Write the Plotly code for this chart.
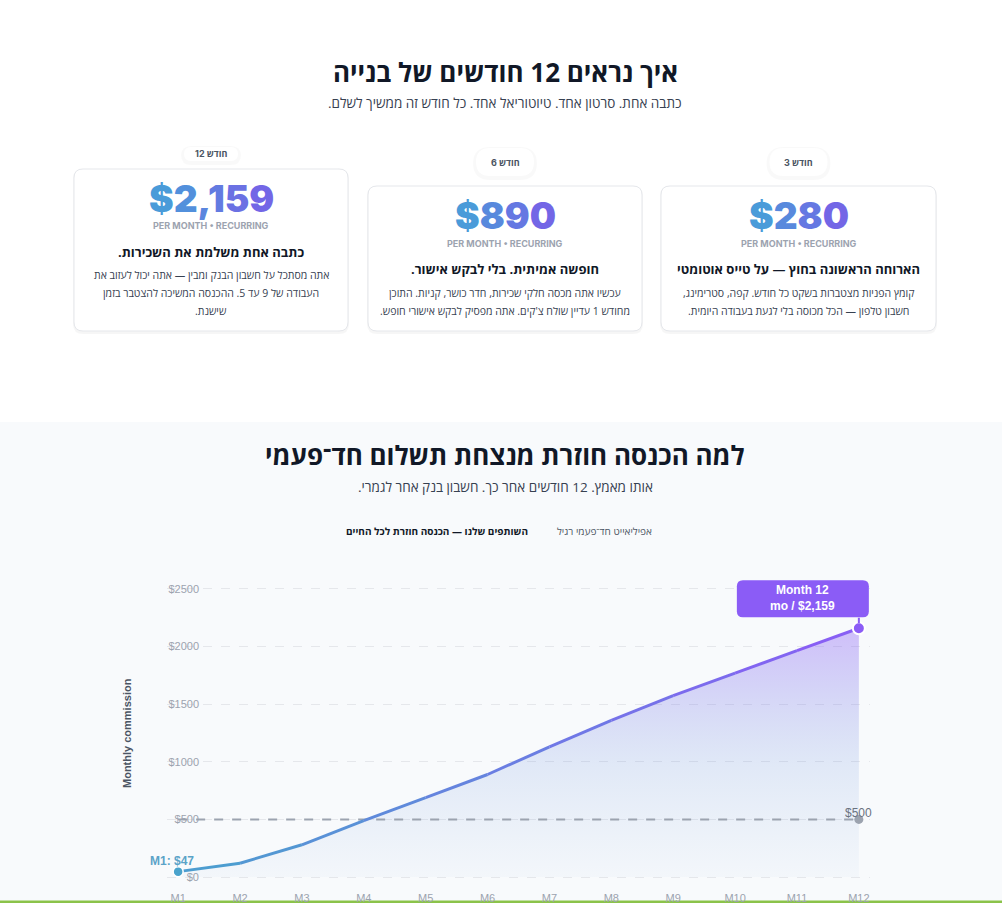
import plotly.graph_objects as go

W, H = 1002, 903

# chart data
months = ["M1", "M2", "M3", "M4", "M5", "M6", "M7", "M8", "M9", "M10", "M11", "M12"]
recurring = [47, 120, 280, 490, 690, 890, 1130, 1360, 1575, 1770, 1965, 2159]
one_time = [500, 500, 500, 500, 500, 500, 500, 500, 500, 500, 500, 500]
y_ticks = [0, 500, 1000, 1500, 2000, 2500]

# milestone cards (left to right on screen)
card_months = ["חודש 12", "חודש 6", "חודש 3"]
card_prices = ["$2,159", "$890", "$280"]
card_titles = ["כתבה אחת משלמת את השכירות.",
               "חופשה אמיתית. בלי לבקש אישור.",
               "הארוחה הראשונה בחוץ — על טייס אוטומטי"]
card_bodies = [["אתה מסתכל על חשבון הבנק ומבין — אתה יכול לעזוב את",
                "העבודה של 9 עד 5. ההכנסה המשיכה להצטבר בזמן",
                "שישנת."],
               ["עכשיו אתה מכסה חלקי שכירות, חדר כושר, קניות. התוכן",
                "מחודש 1 עדיין שולח צ'קים. אתה מפסיק לבקש אישורי חופש."],
               ["קומץ הפניות מצטברות בשקט כל חודש. קפה, סטרימינג,",
                "חשבון טלפון — הכל מכוסה בלי לגעת בעבודה היומית."]]

RLM = "\u200f"
HEB = "Open Sans, Liberation Sans, DejaVu Sans, sans-serif"
ARIAL = "Liberation Sans, Arial, sans-serif"
DARK = "#111827"


def X(px):
    return px / W


def Y(py):
    return 1 - py / H


def rpath(x0, y0, x1, y1, r, fx, fy):
    pts = [("M", x0 + r, y0), ("L", x1 - r, y0), ("Q", x1, y0, x1, y0 + r),
           ("L", x1, y1 - r), ("Q", x1, y1, x1 - r, y1), ("L", x0 + r, y1),
           ("Q", x0, y1, x0, y1 - r), ("L", x0, y0 + r), ("Q", x0, y0, x0 + r, y0)]
    s = ""
    for p in pts:
        nums = p[1:]
        coords = []
        for i in range(0, len(nums), 2):
            coords.append("%.5f,%.5f" % (fx(nums[i]), fy(nums[i + 1])))
        s += p[0] + " " + " ".join(coords) + " "
    return s + "Z"


def rrect(x0, y0, x1, y1, r):
    return rpath(x0, y0, x1, y1, r, X, Y)


def mix(c1, c2, t):
    return "rgb(%d,%d,%d)" % tuple(round(a + (b - a) * t) for a, b in zip(c1, c2))


def note(txt, cx, cy, size, color, weight="normal", family=HEB, **kw):
    return dict(text=txt, x=X(cx), y=Y(cy), xref="paper", yref="paper",
                xanchor="center", yanchor="middle", showarrow=False,
                font=dict(size=size, color=color, family=family, weight=weight), **kw)


BLUE = (74, 160, 206)
PURPLE = (139, 92, 246)

fig = go.Figure()

# area under recurring line
fig.add_trace(go.Scatter(
    x=months, y=recurring, mode="none", fill="tozeroy",
    fillgradient=dict(type="vertical",
                      colorscale=[[0, "rgba(120,160,215,0.04)"],
                                  [0.45, "rgba(100,140,220,0.16)"],
                                  [1, "rgba(139,92,246,0.38)"]]),
    hoverinfo="skip", showlegend=False))

# one-time reference line
fig.add_trace(go.Scatter(
    x=months, y=one_time, mode="lines",
    line=dict(color="#9ca3af", width=2, dash="dash"),
    hoverinfo="skip", showlegend=False))
fig.add_trace(go.Scatter(
    x=months[-1:], y=one_time[-1:], mode="markers",
    marker=dict(color="#9ca3af", size=9),
    hoverinfo="skip", showlegend=False, cliponaxis=False))

# recurring line, coloured segment by segment
n = len(months)
for i in range(n - 1):
    fig.add_trace(go.Scatter(
        x=months[i:i + 2], y=recurring[i:i + 2], mode="lines",
        line=dict(color=mix(BLUE, PURPLE, (i + 0.5) / (n - 1)), width=3),
        hoverinfo="skip", showlegend=False))

fig.add_trace(go.Scatter(
    x=months[:1], y=recurring[:1], mode="markers",
    marker=dict(color="#4aa3cc", size=10, line=dict(color="white", width=1.5)),
    hoverinfo="skip", showlegend=False, cliponaxis=False))
fig.add_trace(go.Scatter(
    x=months[-1:], y=recurring[-1:], mode="markers",
    marker=dict(color="#8b5cf6", size=12, line=dict(color="white", width=2)),
    hoverinfo="skip", showlegend=False, cliponaxis=False))

shapes = []
annotations = []

# light section behind the chart
shapes.append(dict(type="rect", xref="paper", yref="paper", x0=0, x1=1,
                   y0=Y(903), y1=Y(422), fillcolor="#f8fafc", line_width=0, layer="below"))
shapes.append(dict(type="rect", xref="paper", yref="paper", x0=0, x1=1,
                   y0=0, y1=Y(900.5), fillcolor="#8bc34a", line_width=0, layer="below"))

# header
annotations.append(note("איך נראים 12 חודשים של בנייה", 505, 72, 26, DARK, "bold"))
annotations.append(note("כתבה אחת. סרטון אחד. טיוטוריאל אחד. כל חודש זה ממשיך לשלם." + RLM,
                        505, 103, 13.5, "#374151"))

# cards
card_x = [(74, 348), (368, 642), (661, 936)]
card_top = [169, 186, 186]
price_c1 = (74, 155, 217)
price_c2 = (115, 102, 230)
for k in range(3):
    x0, x1 = card_x[k]
    top = card_top[k]
    cx = (x0 + x1) / 2
    shapes.append(dict(type="path", xref="paper", yref="paper",
                       path=rrect(x0 - 1, top, x1 + 1, 334, 10),
                       fillcolor="rgba(0,0,0,0.035)", line_width=0, layer="below"))
    shapes.append(dict(type="path", xref="paper", yref="paper",
                       path=rrect(x0, top, x1, 331, 9),
                       fillcolor="white", line=dict(color="#e5e7eb", width=1), layer="below"))
    # month pill
    if k == 0:
        pw, ph, py = 54, 14, 154
    else:
        pw, ph, py = 58, 28, 162
    shapes.append(dict(type="path", xref="paper", yref="paper",
                       path=rrect(cx - pw / 2 - 3, py - ph / 2 - 1, cx + pw / 2 + 3, py + ph / 2 + 4, ph / 2 + 3),
                       fillcolor="rgba(0,0,0,0.025)", line_width=0, layer="below"))
    shapes.append(dict(type="path", xref="paper", yref="paper",
                       path=rrect(cx - pw / 2, py - ph / 2, cx + pw / 2, py + ph / 2, ph / 2),
                       fillcolor="white", line_width=0, layer="below"))
    annotations.append(note(card_months[k], cx, py, 9, "#4b5563", "bold", family="Inter, " + HEB))
    # price with blue to purple colouring
    p = card_prices[k]
    spans = ""
    for j, ch in enumerate(p):
        spans += '<span style="color:%s">%s</span>' % (mix(price_c1, price_c2, j / max(len(p) - 1, 1)), ch)
    annotations.append(note(spans, cx, top + 29, 37, "#5b86e0", 900, family="Inter, Roboto, sans-serif"))
    annotations.append(note("PER MONTH • RECURRING", cx, top + 57, 9, "#9ca3af", "bold",
                            family="Inter, sans-serif"))
    annotations.append(note(card_titles[k] + RLM, cx, top + 83, 13, DARK, "bold"))
    for j, line in enumerate(card_bodies[k]):
        annotations.append(note(line + RLM, cx, top + 107 + j * 18 - (1 if k == 0 else 0), 10.5, "#374151"))

# chart header and legend
annotations.append(note("למה הכנסה חוזרת מנצחת תשלום חד־פעמי", 505, 455, 26, DARK, "bold"))
annotations.append(note("אותו מאמץ. 12 חודשים אחר כך. חשבון בנק אחר לגמרי." + RLM, 505, 487, 13.5, "#374151"))
annotations.append(note("השותפים שלנו — הכנסה חוזרת לכל החיים", 437, 531, 10, DARK, "bold"))
annotations.append(note("אפיליאייט חד־פעמי רגיל", 604, 531, 10, "#4b5563"))
annotations.append(note("Monthly commission", 127, 733, 11, "#4b5563", "bold", family=ARIAL, textangle=-90))

# point labels
annotations.append(dict(x=months[0], y=recurring[0], xref="x", yref="y",
                        text="%s: $%d" % (months[0], recurring[0]), showarrow=False,
                        xanchor="center", yanchor="bottom", xshift=-6, yshift=2,
                        font=dict(family=ARIAL, size=12, color="#5ba3c8", weight="bold")))
annotations.append(dict(x=months[-1], y=one_time[-1], xref="x", yref="y",
                        text="$%d" % one_time[-1], showarrow=False,
                        xanchor="center", yanchor="bottom", xshift=0, yshift=-3,
                        font=dict(family=ARIAL, size=12, color="#6b7280")))

# tooltip on month 12
shapes.append(dict(type="path", xref="x", yref="y", xsizemode="pixel", ysizemode="pixel",
                   xanchor=n - 1, yanchor=recurring[-1],
                   path=rpath(-122, 11, 10, 48, 6, lambda v: v, lambda v: v),
                   fillcolor="#8b5cf6", line_width=0, layer="above"))
annotations.append(dict(x=months[-1], y=recurring[-1], xref="x", yref="y", text="",
                        showarrow=True, ax=0, ay=-12, arrowhead=0, arrowwidth=2,
                        arrowcolor="#8b5cf6", standoff=5))
annotations.append(dict(x=months[-1], y=recurring[-1], xref="x", yref="y",
                        text="Month 12<br>mo / $%s" % format(recurring[-1], ","),
                        showarrow=False, xanchor="center", yanchor="middle",
                        xshift=-56, yshift=30, align="center",
                        font=dict(family=ARIAL, size=12, color="white", weight="bold")))

fig.update_layout(
    width=W, height=H,
    margin=dict(l=0, r=0, t=0, b=0),
    paper_bgcolor="white", plot_bgcolor="rgba(0,0,0,0)",
    shapes=shapes, annotations=annotations,
    hovermode=False, showlegend=False,
    xaxis=dict(domain=[X(167), X(870)], range=[-0.18, 11.18], type="category",
               showgrid=False, zeroline=False, showline=False, ticks="",
               ticklabelstandoff=5,
               tickfont=dict(family=ARIAL, size=11, color="#9ca3af")),
    yaxis=dict(domain=[Y(885), Y(577)], range=[-69, 2604],
               tickvals=y_ticks, ticktext=["$%d" % v for v in y_ticks],
               ticks="", ticklabelstandoff=-33,
               showgrid=True, gridcolor="#e5e7eb", griddash="dash", gridwidth=1,
               zeroline=False, showline=False,
               tickfont=dict(family=ARIAL, size=11, color="#9ca3af")),
)

fig.write_html("out.html", config={"displayModeBar": False},
               post_script="document.body.style.margin='0';document.body.style.overflow='hidden';")
